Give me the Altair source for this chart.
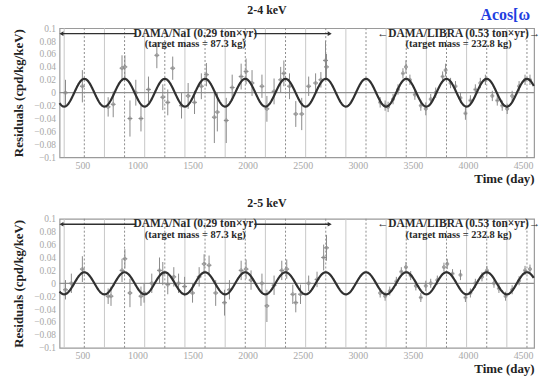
import altair as alt
import pandas as pd

# ---------------- data ----------------
# 2-4 keV residuals
days_24 = [347, 500, 734, 780, 860, 886, 932, 985, 1032, 1100, 1176, 1230, 1275, 1320,
           1400, 1460, 1518, 1580, 1626, 1698, 1725, 1806, 1860, 1941, 1986, 2040, 2130, 2175, 2240, 2300, 2329, 2380,
           2437, 2491, 2554, 2617, 2665, 2707, 2716,
           3203, 3248, 3275, 3320, 3365, 3410, 3437, 3473, 3518,
           3572, 3617, 3662, 3707, 3770, 3797, 3842, 3887, 3932, 3977, 4022, 4067, 4112, 4158,
           4221, 4266, 4311, 4356, 4401, 4464, 4518, 4563]
res_24 = [0.000, 0.010, -0.022, -0.018, 0.038, 0.040, -0.040, 0.000, -0.040, 0.005, 0.058, -0.007, -0.015, 0.038,
          -0.020, -0.005, -0.015, 0.010, 0.028, -0.038, -0.030, -0.043, 0.008, 0.025, 0.033, 0.015, 0.010, -0.025, 0.002, 0.020, 0.030, 0.010,
          -0.033, -0.033, 0.010, 0.015, 0.020, 0.050, 0.040,
          -0.015, -0.020, -0.022, -0.010, 0.005, 0.030, 0.040, 0.020, -0.003,
          -0.020, -0.025, -0.010, 0.000, 0.025, 0.035, 0.015, 0.010, -0.008, -0.032, -0.012, 0.005, 0.015, 0.020,
          -0.005, -0.012, -0.020, -0.025, -0.005, 0.010, 0.020, 0.020]
err_24 = [0.020, 0.025, 0.015, 0.020, 0.020, 0.018, 0.028, 0.020, 0.020, 0.020, 0.020, 0.020, 0.020, 0.018,
          0.020, 0.020, 0.018, 0.020, 0.018, 0.040, 0.030, 0.035, 0.020, 0.020, 0.020, 0.020, 0.018, 0.020, 0.020, 0.020, 0.020, 0.020,
          0.020, 0.025, 0.015, 0.015, 0.012, 0.030, 0.020,
          0.008, 0.008, 0.008, 0.008, 0.008, 0.008, 0.010, 0.008, 0.008,
          0.008, 0.010, 0.008, 0.008, 0.008, 0.010, 0.008, 0.008, 0.008, 0.010, 0.008, 0.008, 0.008, 0.008,
          0.008, 0.008, 0.008, 0.008, 0.008, 0.008, 0.008, 0.008]

# 2-5 keV residuals
days_25 = [347, 400, 500, 734, 760, 860, 886, 932, 1032, 1060, 1130, 1200, 1230, 1275, 1330,
           1373, 1428, 1500, 1560, 1605, 1650, 1710, 1790, 1835, 1941, 1986, 2031, 2130, 2175, 2240, 2310, 2355, 2410,
           2437, 2480, 2554, 2630, 2690, 2716,
           3203, 3248, 3290, 3350, 3395, 3437, 3480, 3527,
           3572, 3617, 3662, 3722, 3782, 3812, 3860, 3932, 3977, 4022, 4067, 4127, 4172,
           4236, 4281, 4341, 4401, 4464, 4518, 4563]
res_25 = [-0.010, 0.000, 0.022, -0.020, -0.020, 0.020, 0.038, -0.015, -0.020, -0.015, 0.000, 0.020, 0.015, -0.002, 0.010,
          0.000, -0.005, -0.015, 0.010, 0.030, 0.028, -0.015, -0.030, -0.010, 0.020, 0.022, 0.005, 0.000, -0.035, -0.003, 0.020, 0.022, -0.017,
          -0.030, -0.017, 0.000, 0.006, 0.040, 0.055,
          -0.015, -0.020, -0.012, 0.003, 0.018, 0.025, 0.012, -0.004,
          -0.022, -0.004, 0.000, 0.005, 0.025, 0.030, 0.015, 0.013, -0.022, -0.015, 0.000, 0.010, 0.020,
          0.000, -0.008, -0.020, -0.010, 0.004, 0.020, 0.022]
err_25 = [0.015, 0.015, 0.020, 0.012, 0.015, 0.018, 0.015, 0.022, 0.015, 0.015, 0.015, 0.020, 0.018, 0.015, 0.015,
          0.015, 0.015, 0.015, 0.015, 0.015, 0.015, 0.020, 0.020, 0.015, 0.015, 0.015, 0.015, 0.015, 0.025, 0.015, 0.015, 0.015, 0.015,
          0.015, 0.015, 0.012, 0.012, 0.020, 0.020,
          0.007, 0.007, 0.007, 0.007, 0.007, 0.008, 0.007, 0.007,
          0.007, 0.008, 0.007, 0.007, 0.007, 0.008, 0.007, 0.008, 0.007, 0.007, 0.007, 0.007, 0.007,
          0.007, 0.007, 0.007, 0.007, 0.007, 0.007, 0.007]

# fitted modulation A*cos(w(t-t0))
amp_24 = 0.0215
amp_25 = 0.0171
period = 365.25
t0 = 152.5

x_ticks = [500, 1000, 1500, 2000, 2500, 3000, 3500, 4000, 4500]
y_ticks = [-0.1, -0.08, -0.06, -0.04, -0.02, 0, 0.02, 0.04, 0.06, 0.08, 0.1]
x_dom = [293, 4600]
y_dom = [-0.1, 0.1]

# annotations (data units)
nai_label = ["DAMA/NaI (0.29 ton×yr)", "(target mass = 87.3 kg)"]
libra_label = ["←DAMA/LIBRA (0.53 ton×yr)→", "(target mass = 232.8 kg)"]
nai_center = 1525
libra_center = 3915
label_y = [0.0915, 0.0755]
nai_arrow = [[310, 985], [2060, 2745]]

SERIF = "Liberation Serif"
GRID_GREY = "#c8c8c8"
PT_GREY = "#8a8a8a"


def panel(days, res, err, amp, title, show_acos, title_offset):
    nai_end = 2800
    xerr = [22 if d < nai_end else 14 for d in days]
    df = pd.DataFrame({"day": days, "res": res, "err": err, "xerr": xerr})
    df["lo"] = df.res - df.err
    df["hi"] = df.res + df.err
    df["xlo"] = df.day - df.xerr
    df["xhi"] = df.day + df.xerr

    xs = alt.Scale(domain=x_dom, nice=False, zero=False)
    ys = alt.Scale(domain=y_dom, nice=False, zero=False)
    xax = alt.Axis(values=x_ticks, format="d", grid=False, domain=False, ticks=False, labelColor="#a8a8a8",
                   labelFont=SERIF, labelFontSize=10, labelPadding=3, labelOverlap=False,
                   title="Time (day)", titleFont=SERIF, titleFontSize=13,
                   titleFontWeight="bold", titleColor="#222", titleAnchor="end", titlePadding=2)
    yax = alt.Axis(values=y_ticks, format="~g", grid=False, domain=False, ticks=False,
                   labelColor="#a8a8a8", labelFont=SERIF, labelFontSize=9.5, labelPadding=4,
                   labelOverlap=False, labelBound=False, labelFlush=False,
                   title="Residuals (cpd/kg/keV)", titleFont=SERIF, titleFontSize=13,
                   titleFontWeight="bold", titleColor="#222", titlePadding=8)

    def X(f):
        return alt.X(f, scale=xs, axis=xax)

    def Y(f):
        return alt.Y(f, scale=ys, axis=yax)

    base_seq = alt.Chart(alt.sequence(start=0, stop=13, as_="k"))
    peaks = base_seq.transform_calculate(d=f"{t0}+{period}*datum.k").transform_filter(
        f"datum.d>{x_dom[0]} && datum.d<{x_dom[1]}")
    troughs = base_seq.transform_calculate(d=f"{t0}+{period}*(datum.k-0.5)").transform_filter(
        f"datum.d>{x_dom[0]} && datum.d<{x_dom[1]}")

    trough_lines = troughs.mark_rule(color=GRID_GREY, strokeWidth=1).encode(x=X("d:Q"))
    peak_lines = peaks.mark_rule(color="#8c8c8c", strokeWidth=1, strokeDash=[2, 2]).encode(x=X("d:Q"))

    zero = alt.Chart(pd.DataFrame({"z": [0]})).mark_rule(color="#909090", strokeWidth=1.2).encode(
        y=Y("z:Q"))

    base = alt.Chart(df)
    vbar = base.mark_rule(color=PT_GREY, strokeWidth=1).encode(
        x=X("day:Q"), y=Y("lo:Q"), y2="hi:Q")
    hbar = base.mark_rule(color=PT_GREY, strokeWidth=1).encode(
        x=X("xlo:Q"), x2="xhi:Q", y=Y("res:Q"))
    pts = base.mark_point(shape="circle", size=10, color=PT_GREY, strokeWidth=1, filled=False).encode(
        x=X("day:Q"), y=Y("res:Q"))

    curve = alt.Chart(alt.sequence(start=x_dom[0], stop=x_dom[1] + 1, step=4, as_="t")).transform_calculate(
        y=f"{amp}*cos(2*PI*(datum.t-{t0})/{period})").mark_line(color="#303030", strokeWidth=2.2).encode(
        x=X("t:Q"), y=Y("y:Q"))

    lab_df = pd.DataFrame({
        "x": [nai_center, nai_center, libra_center, libra_center],
        "y": [label_y[0], label_y[1], label_y[0], label_y[1]],
        "txt": [nai_label[0], nai_label[1], libra_label[0], libra_label[1]],
        "fs": [11.5, 10.5, 11.5, 10.5],
    })
    labels = alt.Chart(lab_df).mark_text(font=SERIF, fontWeight="bold", color="#2a2a2a",
                                         baseline="middle").encode(
        x=X("x:Q"), y=Y("y:Q"), text="txt:N",
        size=alt.Size("fs:Q", scale=None, legend=None))

    arr_df = pd.DataFrame({"x1": [a[0] for a in nai_arrow], "x2": [a[1] for a in nai_arrow],
                           "y": [label_y[0]] * 2})
    arr_lines = alt.Chart(arr_df).mark_rule(color="#303030", strokeWidth=1.3).encode(
        x=X("x1:Q"), x2="x2:Q", y=Y("y:Q"))
    head_df = pd.DataFrame({"x": [nai_arrow[0][0], nai_arrow[1][1]], "y": [label_y[0]] * 2,
                            "shape": ["triangle-left", "triangle-right"]})
    heads = alt.Chart(head_df).mark_point(filled=True, color="#303030", size=22, opacity=1).encode(
        x=X("x:Q"), y=Y("y:Q"),
        shape=alt.Shape("shape:N", scale=None, legend=None))

    layers = [trough_lines, peak_lines, zero, vbar, hbar, pts, curve, arr_lines, heads, labels]
    if show_acos:
        acos = alt.Chart(pd.DataFrame({"t": ["Acos[ω"]})).mark_text(
            font=SERIF, fontWeight="bold", fontSize=16, color="#1f3ee0", align="left",
            baseline="middle").encode(text="t:N", x=alt.value(424), y=alt.value(-13))
        layers.append(acos)

    return alt.layer(*layers).properties(
        width=478, height=130,
        title=alt.TitleParams(title, font=SERIF, fontSize=12, fontWeight="bold", color="#222",
                              anchor="middle", dx=-30, offset=title_offset))


top = panel(days_24, res_24, err_24, amp_24, "2-4 keV", True, -10)
bottom = panel(days_25, res_25, err_25, amp_25, "2-5 keV", False, 4)

chart = alt.vconcat(top, bottom, spacing=10).properties(
    padding={"left": 12, "top": 2, "right": 2, "bottom": 0},
    background="white",
).configure_view(stroke="#9a9a9a", strokeWidth=1.2)

chart.save("out.html", embed_options={"renderer": "svg", "actions": False})
